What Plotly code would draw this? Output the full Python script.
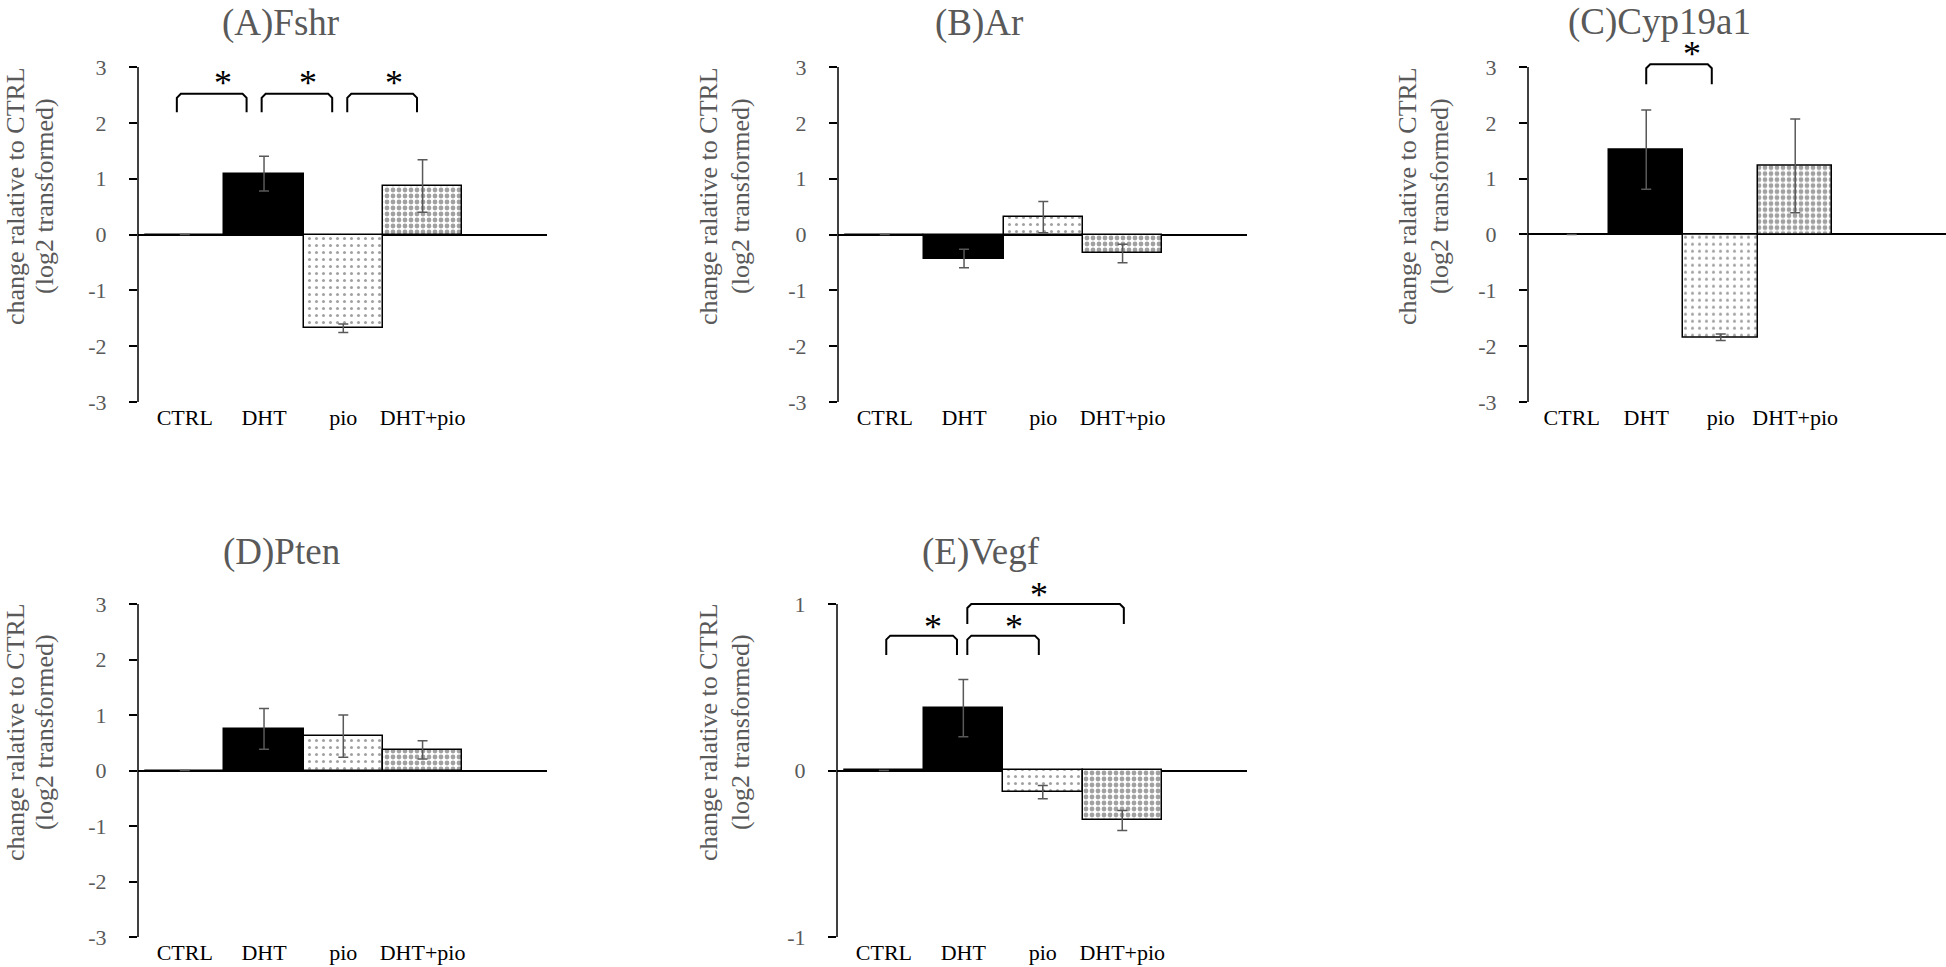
import plotly.graph_objects as go

# ---------------- data ----------------
categories = ["CTRL", "DHT", "pio", "DHT+pio"]
panel_titles = ["(A)Fshr", "(B)Ar", "(C)Cyp19a1", "(D)Pten", "(E)Vegf"]

fshr = [0, 1.09, -1.68, 0.87]
fshr_err = [None, 0.31, 0.075, 0.47]
ar = [0, -0.43, 0.31, -0.34]
ar_err = [None, 0.165, 0.28, 0.165]
cyp19a1 = [0, 1.52, -1.84, 1.23]
cyp19a1_err = [None, 0.71, 0.06, 0.84]
pten = [0, 0.75, 0.62, 0.37]
pten_err = [None, 0.365, 0.38, 0.165]
vegf = [0, 0.374, -0.13, -0.30]
vegf_err = [None, 0.172, 0.04, 0.06]

ticks_wide = [-3, -2, -1, 0, 1, 2, 3]
ticks_wide_text = ["-3", "-2", "-1", "0", "1", "2", "3"]
ticks_narrow = [-1, 0, 1]
ticks_narrow_text = ["-1", "0", "1"]

# significance brackets per panel: (x start, x end, leg bottom, top)
brackets_A = [(-0.10, 0.78, 2.19, 2.52), (0.97, 1.86, 2.19, 2.52), (2.05, 2.93, 2.19, 2.52)]
stars_A = [(0.48, 2.76), (1.55, 2.76), (2.64, 2.76)]
brackets_C = [(1.0, 1.88, 2.69, 3.05)]
stars_C = [(1.61, 3.28)]
brackets_E = [(0.03, 0.92, 0.694, 0.81), (1.05, 1.95, 0.694, 0.81), (1.05, 3.02, 0.88, 1.0)]
stars_E = [(0.62, 0.88), (1.64, 0.88), (1.95, 1.074)]

# ---------------- layout (pixels) ----------------
W, H = 1946, 967
GRAY = "#595959"
FONT = "Liberation Serif, Times New Roman, serif"

panels = [
    dict(vals=fshr, err=fshr_err, ticks=ticks_wide, tt=ticks_wide_text, br=brackets_A, st=stars_A,
         xpx=(138, 547), ypx=(67, 402), rng_hi=3.0, xr=(-0.59, 4.57),
         yt_x=(15, 44), yt_y=196, t_xy=(280, 23)),
    dict(vals=ar, err=ar_err, ticks=ticks_wide, tt=ticks_wide_text, br=[], st=[],
         xpx=(838, 1247), ypx=(67, 402), rng_hi=3.0, xr=(-0.59, 4.57),
         yt_x=(708, 740), yt_y=196, t_xy=(979, 23)),
    dict(vals=cyp19a1, err=cyp19a1_err, ticks=ticks_wide, tt=ticks_wide_text, br=brackets_C, st=stars_C,
         xpx=(1528, 1946), ypx=(67, 402), rng_hi=3.4, xr=(-0.587, 5.024),
         yt_x=(1407, 1439), yt_y=196, t_xy=(1659, 22)),
    dict(vals=pten, err=pten_err, ticks=ticks_wide, tt=ticks_wide_text, br=[], st=[],
         xpx=(138, 547), ypx=(604, 937), rng_hi=3.0, xr=(-0.59, 4.57),
         yt_x=(15, 44), yt_y=732, t_xy=(281, 552)),
    dict(vals=vegf, err=vegf_err, ticks=ticks_narrow, tt=ticks_narrow_text, br=brackets_E, st=stars_E,
         xpx=(837, 1247), ypx=(604, 937), rng_hi=1.12, xr=(-0.59, 4.57),
         yt_x=(708, 740), yt_y=732, t_xy=(981, 552)),
]

fig = go.Figure()
shapes = []
annotations = []
xpos = list(range(len(categories)))

for i, p in enumerate(panels):
    n = "" if i == 0 else str(i + 1)
    xid, yid = "x" + n, "y" + n
    t_lo, t_hi = p["ticks"][0], p["ticks"][-1]
    ppu = (p["ypx"][1] - p["ypx"][0]) / (t_hi - t_lo)
    top_px = p["ypx"][0] - (p["rng_hi"] - t_hi) * ppu
    ydom = [1 - p["ypx"][1] / H, 1 - top_px / H]
    xdom = [p["xpx"][0] / W, min(1.0, p["xpx"][1] / W)]
    ppc = (p["xpx"][1] - p["xpx"][0]) / (p["xr"][1] - p["xr"][0])

    fig.add_trace(go.Bar(
        x=xpos, y=p["vals"], width=[1] * 4, xaxis=xid, yaxis=yid,
        marker=dict(
            color=["white", "black", "white", "white"],
            line=dict(color="black", width=1.5),
            pattern=dict(shape=["", "", ".", "."],
                         fgcolor="black",
                         bgcolor=["white", "black", "white", "white"],
                         size=[7, 7, 7, 6],
                         solidity=[0.15, 0.15, 0.15, 0.5]),
        ),
        error_y=dict(type="data", array=p["err"], visible=True, color=GRAY,
                     thickness=1.5, width=5),
        showlegend=False, hoverinfo="skip",
    ))

    fig.layout["xaxis" + n] = dict(
        domain=xdom, range=list(p["xr"]), anchor=yid, showgrid=False,
        zeroline=False, showline=False, tickmode="array", tickvals=xpos,
        ticktext=categories, ticks="", tickfont=dict(family=FONT, size=22, color="black"),
        ticklabelstandoff=0, fixedrange=True, automargin=False,
    )
    fig.layout["yaxis" + n] = dict(
        domain=ydom, range=[t_lo, p["rng_hi"]], anchor=xid, showgrid=False,
        zeroline=True, zerolinecolor="black", zerolinewidth=1.5, showline=False,
        tickmode="array", tickvals=p["ticks"], ticktext=p["tt"], ticks="outside", ticklen=8,
        tickwidth=1.5, tickcolor="black",
        tickfont=dict(family=FONT, size=22, color=GRAY), ticklabelstandoff=18,
        fixedrange=True, automargin=False,
    )
    # y spine from lowest to highest tick
    shapes.append(dict(type="line", xref=xid + " domain", x0=0, x1=0,
                       yref=yid, y0=t_lo, y1=t_hi,
                       line=dict(color="black", width=1.5), layer="above"))

    # brackets
    dx, dy = 4 / ppc, 4 / ppu
    for (x0, x1, yb, yt) in p["br"]:
        fig.add_trace(go.Scatter(
            x=[x0, x0, x0 + dx, x1 - dx, x1, x1],
            y=[yb, yt - dy, yt, yt, yt - dy, yb],
            mode="lines", line=dict(color="black", width=2),
            xaxis=xid, yaxis=yid, showlegend=False, hoverinfo="skip",
            cliponaxis=False,
        ))
    for (sx, sy) in p["st"]:
        annotations.append(dict(x=sx, y=sy, xref=xid, yref=yid, text="*",
                                showarrow=False, xanchor="center", yanchor="middle",
                                yshift=-3,
                                font=dict(family=FONT, size=36, color="black")))

    # panel title
    annotations.append(dict(x=p["t_xy"][0] / W, y=1 - p["t_xy"][1] / H, xref="paper",
                            yref="paper", text=panel_titles[i], showarrow=False,
                            xanchor="center", yanchor="middle",
                            font=dict(family=FONT, size=37, color=GRAY)))
    # y axis title (two lines)
    for txt, xx in zip(["change ralative to CTRL", "(log2 transformed)"], p["yt_x"]):
        annotations.append(dict(x=xx / W, y=1 - p["yt_y"] / H, xref="paper", yref="paper",
                                text=txt, textangle=-90, showarrow=False,
                                xanchor="center", yanchor="middle",
                                font=dict(family=FONT, size=26, color=GRAY)))

fig.update_layout(
    width=W, height=H, margin=dict(l=0, r=0, t=0, b=0, autoexpand=False),
    paper_bgcolor="white", plot_bgcolor="white",
    shapes=shapes, annotations=annotations, bargap=0,
    font=dict(family=FONT),
)

fig.write_html("out.html", config={"displayModeBar": False},
               post_script="document.body.style.margin='0';document.body.style.overflow='hidden';")
